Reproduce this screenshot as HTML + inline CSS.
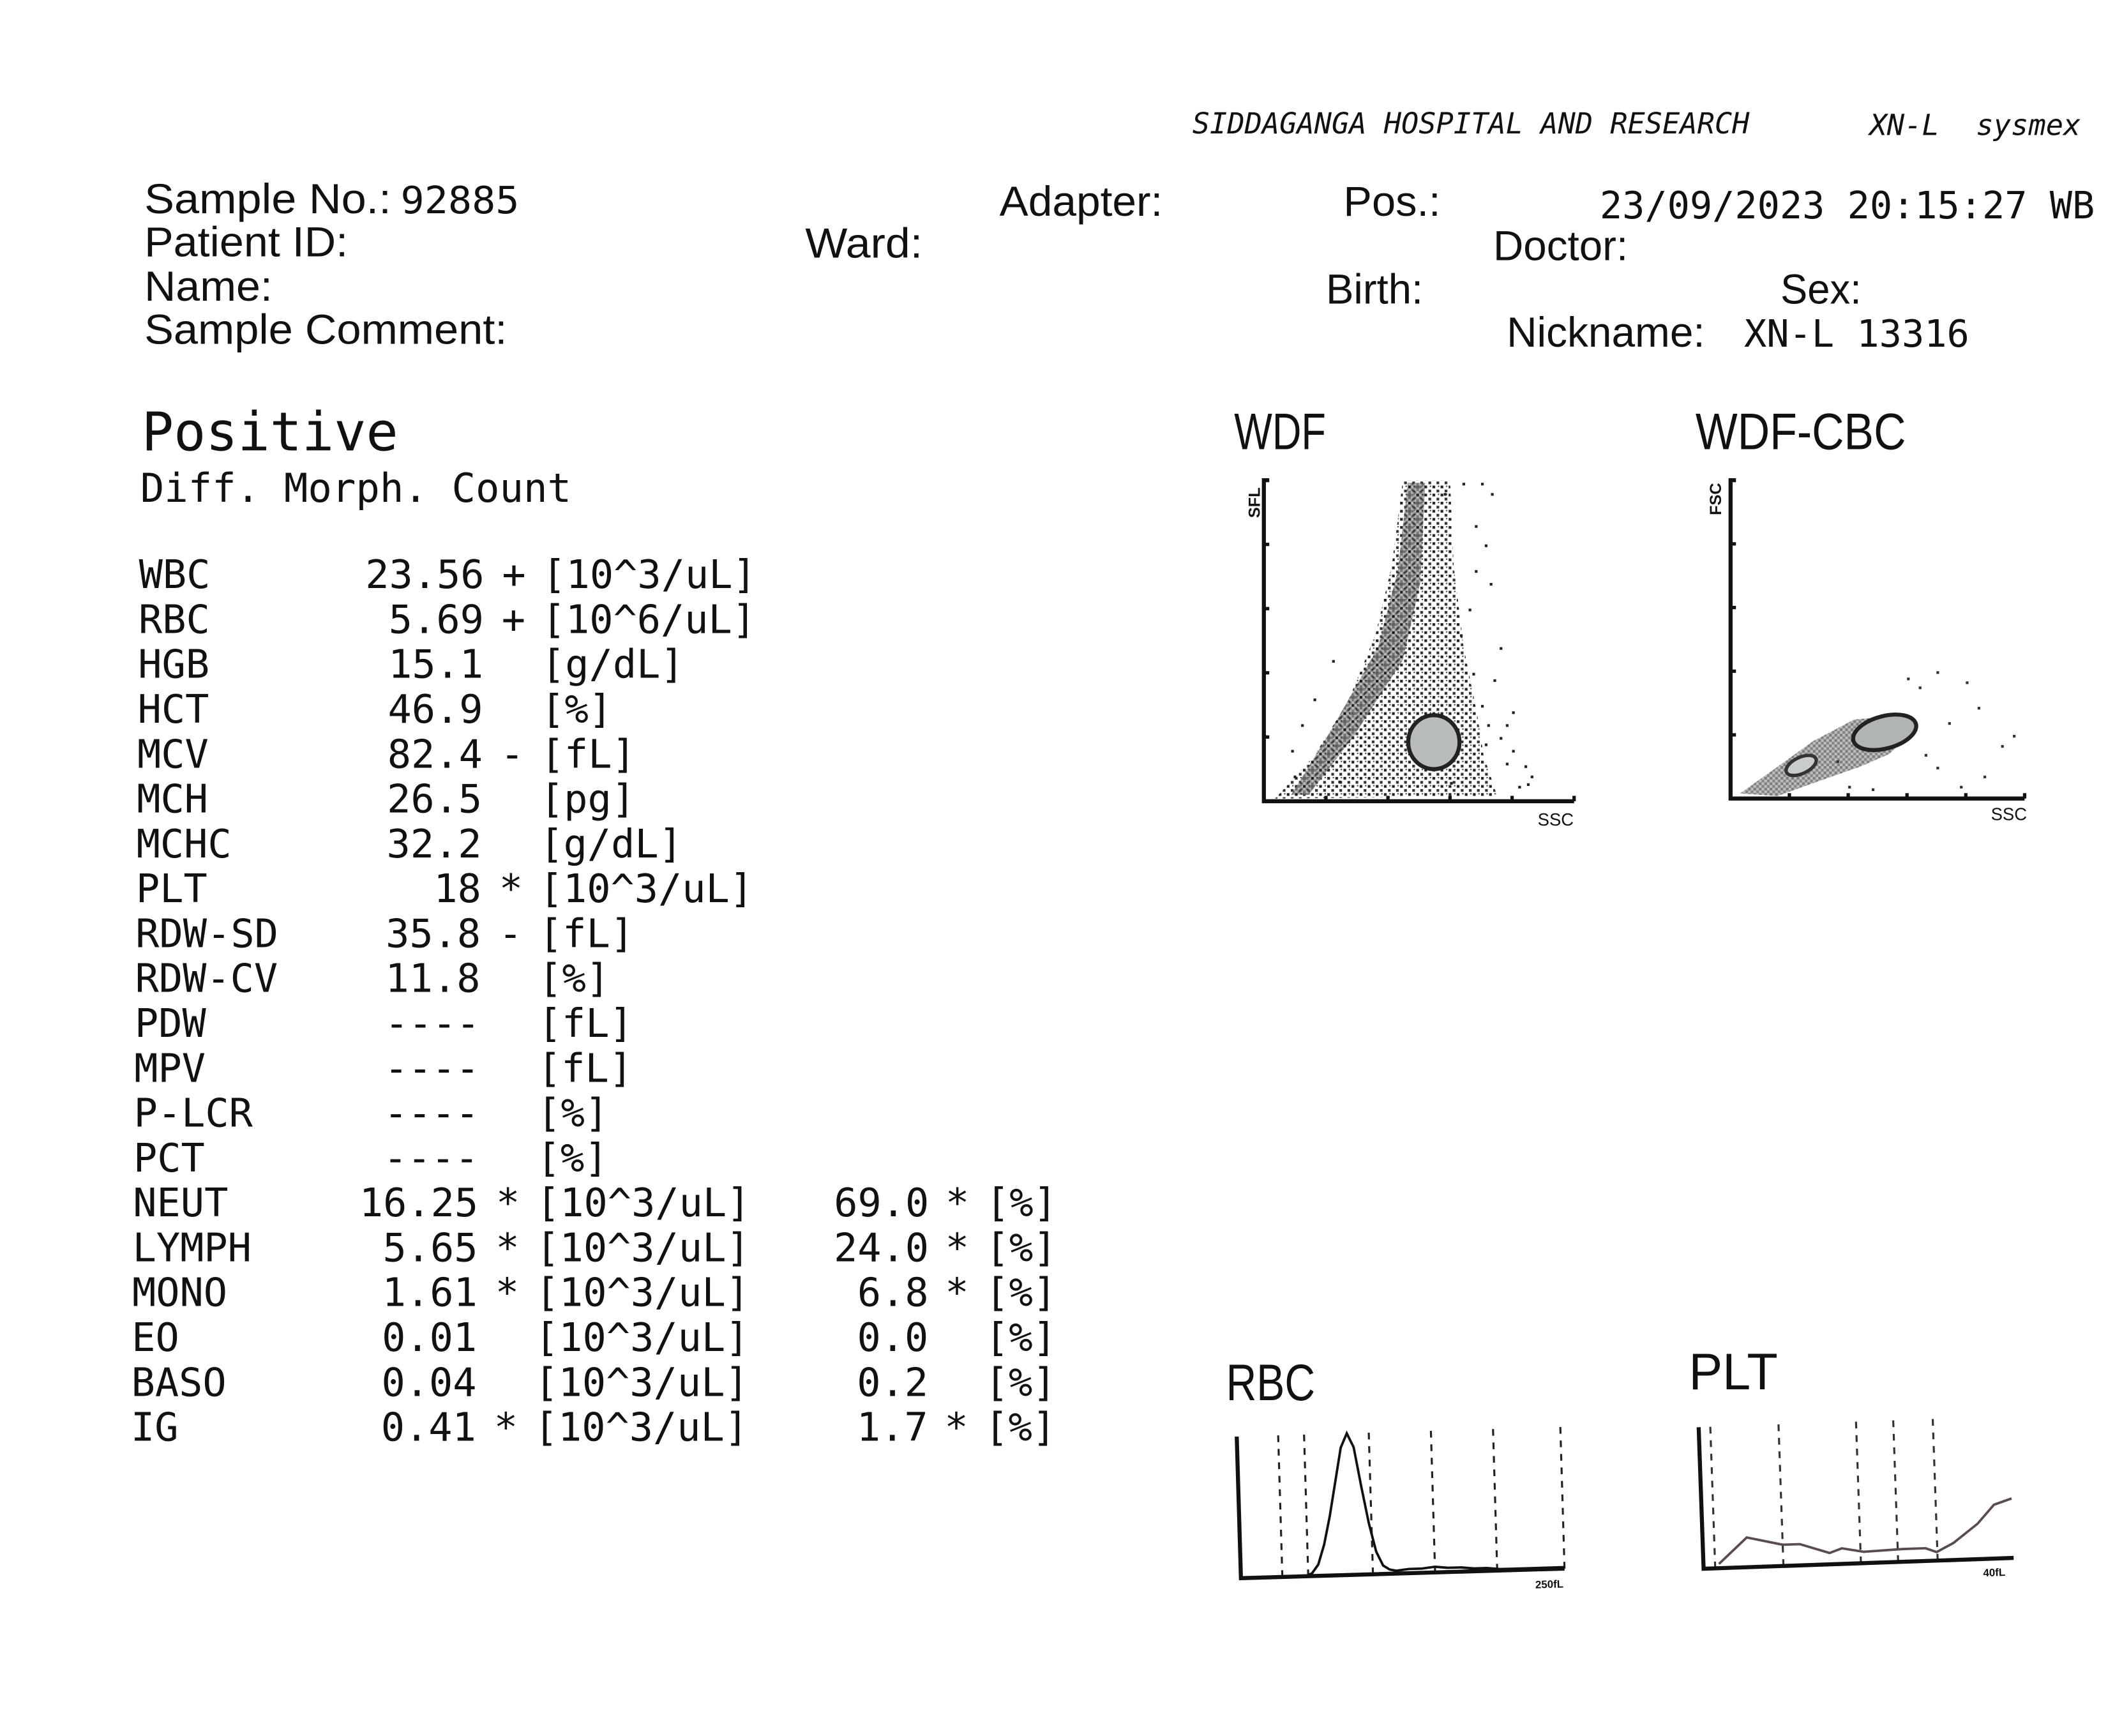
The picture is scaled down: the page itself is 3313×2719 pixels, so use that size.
<!DOCTYPE html>
<html><head><meta charset="utf-8"><style>
html,body{margin:0;padding:0;background:#fff;}
svg{display:block;}
.sans{font-family:"Liberation Sans",sans-serif;fill:#111;}
.mono{font-family:"DejaVu Sans Mono","Liberation Mono",monospace;fill:#111;}
</style></head><body>
<svg id="page" width="3313" height="2719" viewBox="0 0 1568 1287" preserveAspectRatio="none" xmlns="http://www.w3.org/2000/svg">
<defs>
<pattern id="speck" width="6" height="6" patternUnits="userSpaceOnUse">
<rect width="6" height="6" fill="#fff"/>
<rect x="0" y="0" width="2" height="2" fill="#222"/>
<rect x="3" y="3" width="2" height="2" fill="#333"/>
<rect x="4" y="0" width="1" height="1" fill="#444"/>
</pattern>
<pattern id="speckDense" width="4" height="4" patternUnits="userSpaceOnUse">
<rect width="4" height="4" fill="#888"/>
<rect x="0" y="0" width="2" height="2" fill="#111"/>
<rect x="2" y="2" width="2" height="2" fill="#222"/>
</pattern>
</defs>
<rect width="1568" height="1287" fill="#fff"/>

<g>
<text class="mono" font-style="italic" x="884" y="99" font-size="21.5" textLength="413" lengthAdjust="spacingAndGlyphs">SIDDAGANGA HOSPITAL AND RESEARCH</text>
<text class="mono" font-style="italic" x="1386" y="100" font-size="21.5">XN-L</text>
<text class="mono" font-style="italic" x="1465" y="100" font-size="21.5">sysmex</text>
</g>

<g>
<text class="sans" x="107" y="158" font-size="31" textLength="183" lengthAdjust="spacingAndGlyphs">Sample No.:</text>
<text class="mono" x="297" y="158" font-size="28" textLength="88" lengthAdjust="spacingAndGlyphs">92885</text>
<text class="sans" x="107" y="190" font-size="31" textLength="151" lengthAdjust="spacingAndGlyphs">Patient ID:</text>
<text class="sans" x="107" y="223" font-size="31" textLength="95" lengthAdjust="spacingAndGlyphs">Name:</text>
<text class="sans" x="107" y="255" font-size="31" textLength="269" lengthAdjust="spacingAndGlyphs">Sample Comment:</text>
<text class="sans" x="741" y="160" font-size="31" textLength="121" lengthAdjust="spacingAndGlyphs">Adapter:</text>
<text class="sans" x="996" y="160" font-size="31" textLength="72" lengthAdjust="spacingAndGlyphs">Pos.:</text>
<text class="mono" x="1186" y="162" font-size="27.8" textLength="367" lengthAdjust="spacingAndGlyphs">23/09/2023 20:15:27 WB</text>
<text class="sans" x="597" y="191" font-size="31" textLength="87" lengthAdjust="spacingAndGlyphs">Ward:</text>
<text class="sans" x="1107" y="193" font-size="31" textLength="100" lengthAdjust="spacingAndGlyphs">Doctor:</text>
<text class="sans" x="983" y="225" font-size="31" textLength="72" lengthAdjust="spacingAndGlyphs">Birth:</text>
<text class="sans" x="1320" y="225" font-size="31" textLength="60" lengthAdjust="spacingAndGlyphs">Sex:</text>
<text class="sans" x="1117" y="257" font-size="31" textLength="147" lengthAdjust="spacingAndGlyphs">Nickname:</text>
<text class="mono" x="1293" y="257" font-size="27.8" textLength="167" lengthAdjust="spacingAndGlyphs">XN-L 13316</text>
</g>

<text class="mono" x="105" y="334" font-size="39.5">Positive</text>
<text class="mono" x="104" y="372" font-size="29.5">Diff. Morph. Count</text>

<g id="results"></g>

<text class="sans" x="915" y="333" font-size="38" textLength="68" lengthAdjust="spacingAndGlyphs">WDF</text>
<text class="sans" x="1257" y="333" font-size="38" textLength="156" lengthAdjust="spacingAndGlyphs">WDF-CBC</text>
<text class="sans" x="909" y="1038" font-size="38" textLength="66" lengthAdjust="spacingAndGlyphs">RBC</text>
<text class="sans" x="1252" y="1030" font-size="38" textLength="66" lengthAdjust="spacingAndGlyphs">PLT</text>

<g id="wdf"></g>
<g id="cbc"></g>
<g id="rbc" transform="rotate(-1.7 920 1170)"></g>
<g id="plt" transform="rotate(-2 1263 1163)"></g>
</svg>
<script>
const NS="http://www.w3.org/2000/svg";
// ---- results table data ----
const testNames=["WBC","RBC","HGB","HCT","MCV","MCH","MCHC","PLT","RDW-SD","RDW-CV","PDW","MPV","P-LCR","PCT","NEUT","LYMPH","MONO","EO","BASO","IG"];
const testValues=["23.56","5.69","15.1","46.9","82.4","26.5","32.2","18","35.8","11.8","----","----","----","----","16.25","5.65","1.61","0.01","0.04","0.41"];
const testFlags=["+","+","","","-","","","*","-","","","","","","*","*","*","","","*"];
const testUnits=["[10^3/uL]","[10^6/uL]","[g/dL]","[%]","[fL]","[pg]","[g/dL]","[10^3/uL]","[fL]","[%]","[fL]","[fL]","[%]","[%]","[10^3/uL]","[10^3/uL]","[10^3/uL]","[10^3/uL]","[10^3/uL]","[10^3/uL]"];
const pctValues=["69.0","24.0","6.8","0.0","0.2","1.7"];
const pctFlags=["*","*","*","","","*"];

function txt(parent,x,y,s,anchor,size){
  const t=document.createElementNS(NS,"text");
  t.setAttribute("x",x);t.setAttribute("y",y);
  t.setAttribute("class","mono");t.setAttribute("font-size",size||29.3);
  if(anchor)t.setAttribute("text-anchor",anchor);
  t.textContent=s;parent.appendChild(t);return t;
}
const res=document.getElementById("results");
testNames.forEach((n,i)=>{
  const dx=-6*i/19, y=436+i*33.27;
  const row=document.createElementNS(NS,"g");
  
  
  res.appendChild(row);
  txt(row,103+dx,y,n);
  txt(row,359+dx,y,testValues[i],"end");
  if(testFlags[i])txt(row,381+dx,y,testFlags[i],"middle");
  txt(row,402+dx,y,testUnits[i]);
  if(i>=14){
    const k=i-14;
    txt(row,691+dx*0.5,y,pctValues[k],"end");
    if(pctFlags[k])txt(row,712+dx*0.5,y,pctFlags[k],"middle");
    txt(row,733+dx*0.5,y,"[%]");
  }
});

function el(parent,tag,attrs){const e=document.createElementNS(NS,tag);for(const k in attrs)e.setAttribute(k,attrs[k]);parent.appendChild(e);return e;}

// ---- WDF scattergram data (SSC, SFL in 0-250 channel units) ----
const wdfBandSSC=[112,150,153,161,172,177,188,9,41,68,90,103];
const wdfBandSFL=[250,250,183,120,67,36,4,2,36,78,130,183];
const wdfCoreSSC=[116,130,126,112,72,36,22,54,92,108];
const wdfCoreSFL=[248,248,170,110,50,5,5,55,120,180];
const wdfNeutSSC=[137], wdfNeutSFL=[46];
const wdfDotsSSC=[160,175,178,170,182,165,190,185,200,210,215,205,195,158,168,175,30,22,40,55,170,180,195,212,150,145,190,200,24,60,178,183];
const wdfDotsSFL=[248,248,200,215,170,150,120,95,40,28,20,12,60,130,100,75,60,40,80,110,180,60,30,14,15,240,50,70,20,16,45,240];

(function(){
  const g=document.getElementById("wdf");
  const x0=937,y0=594,w=230,h=238;
  const sx=v=>x0+v/250*w, sy=v=>y0-v/250*h;
  let p=el(g,"polygon",{points:wdfBandSSC.map((v,i)=>sx(v)+","+sy(wdfBandSFL[i])).join(" "),fill:"url(#speck)"});
  
  p=el(g,"polygon",{points:wdfCoreSSC.map((v,i)=>sx(v)+","+sy(wdfCoreSFL[i])).join(" "),fill:"url(#speckDense)",opacity:"0.6"});
  
  wdfNeutSSC.forEach((v,i)=>{
    const e=el(g,"ellipse",{cx:sx(v),cy:sy(wdfNeutSFL[i]),rx:19,ry:20,fill:"#b8bcbc",stroke:"#222","stroke-width":3});
    
  });
  wdfDotsSSC.forEach((v,i)=>{
    const d=el(g,"rect",{x:sx(v),y:sy(wdfDotsSFL[i]),width:2,height:2,fill:"#222"});
    
  });
  const ax=el(g,"path",{d:`M${x0+4},${y0-238} H${x0} V${y0} H${x0+w}`,fill:"none",stroke:"#111","stroke-width":3});
  
  for(let k=1;k<=4;k++){el(g,"line",{x1:x0,x2:x0+4,y1:sy(k*50),y2:sy(k*50),stroke:"#111","stroke-width":2.5});}
  for(let k=1;k<=5;k++){el(g,"line",{x1:sx(k*50),x2:sx(k*50),y1:y0,y2:y0-4,stroke:"#111","stroke-width":2.5});}
  const yl=el(g,"text",{x:0,y:0,transform:"translate(934,384) rotate(-90)",class:"sans","font-size":12,"font-weight":"bold"});yl.textContent="SFL";
  
  const xl=el(g,"text",{x:1140,y:612,class:"sans","font-size":13});xl.textContent="SSC";
  
})();

// ---- WDF-CBC scattergram data ----
const cbcBandSSC=[8,40,70,105,140,150,135,110,70,40];
const cbcBandFSC=[4,25,45,62,65,48,35,25,12,2];
const cbcMainSSC=[131], cbcMainFSC=[52];
const cbcSmallSSC=[60], cbcSmallFSC=[26];
const cbcDotsSSC=[175,200,210,185,165,230,215,240,195,160,150,175,120,100,90];
const cbcDotsFSC=[100,92,72,60,35,42,18,50,10,88,95,25,8,10,30];
(function(){
  const g=document.getElementById("cbc");
  const x0=1283,y0=592,w=218,h=236;
  const sx=v=>x0+v/250*w, sy=v=>y0-v/250*h;
  let p=el(g,"polygon",{points:cbcBandSSC.map((v,i)=>sx(v)+","+sy(cbcBandFSC[i])).join(" "),fill:"url(#speckDense)",opacity:"0.55"});
  
  cbcMainSSC.forEach((v,i)=>{
    const e=el(g,"ellipse",{cx:sx(v),cy:sy(cbcMainFSC[i]),rx:24,ry:12,transform:`rotate(-15 ${sx(v)} ${sy(cbcMainFSC[i])})`,fill:"#b0b4b4",stroke:"#222","stroke-width":3});
    
  });
  cbcSmallSSC.forEach((v,i)=>{
    const e=el(g,"ellipse",{cx:sx(v),cy:sy(cbcSmallFSC[i]),rx:12,ry:6,transform:`rotate(-25 ${sx(v)} ${sy(cbcSmallFSC[i])})`,fill:"#c8cccc",stroke:"#333","stroke-width":2.5});
    
  });
  cbcDotsSSC.forEach((v,i)=>{
    const d=el(g,"rect",{x:sx(v),y:sy(cbcDotsFSC[i]),width:2,height:2,fill:"#333"});
    
  });
  const ax=el(g,"path",{d:`M${x0+4},${y0-236} H${x0} V${y0} H${x0+w}`,fill:"none",stroke:"#111","stroke-width":3});
  
  for(let k=1;k<=4;k++){el(g,"line",{x1:x0,x2:x0+4,y1:sy(k*50),y2:sy(k*50),stroke:"#111","stroke-width":2.5});}
  for(let k=1;k<=5;k++){el(g,"line",{x1:sx(k*50),x2:sx(k*50),y1:y0,y2:y0-4,stroke:"#111","stroke-width":2.5});}
  const yl=el(g,"text",{x:0,y:0,transform:"translate(1276,382) rotate(-90)",class:"sans","font-size":12,"font-weight":"bold"});yl.textContent="FSC";
  
  const xl=el(g,"text",{x:1476,y:608,class:"sans","font-size":13});xl.textContent="SSC";
  
})();

// ---- RBC histogram data (fL, relative count 0-100) ----
const rbcFL=[0,10,20,30,40,45,50,55,60,65,70,75,80,85,90,95,100,105,110,115,120,130,140,150,160,170,180,190,200,210,220,230,240,250];
const rbcCount=[0,0,0,0,0,0,0,2,8,22,42,66,90,100,90,62,36,16,6,3,2,3,3,4,3,3,2,2,1,1,1,1,1,1];
const rbcDiscrim=[32,52,102,150,198,250];
(function(){
  const g=document.getElementById("rbc");
  const x0=920,y0=1170,w=240,h=105;
  const sx=v=>x0+v/250*w, sy=v=>y0-v/100*h;
  rbcDiscrim.forEach(v=>{
    const l=el(g,"line",{x1:sx(v),x2:sx(v),y1:y0,y2:y0-h,stroke:"#222","stroke-width":1.5,"stroke-dasharray":"5 5"});
    
  });
  const c=el(g,"polyline",{points:rbcFL.map((v,i)=>sx(v)+","+sy(rbcCount[i])).join(" "),fill:"none",stroke:"#111","stroke-width":1.8});
  
  const ax=el(g,"path",{d:`M${x0},${y0-h} V${y0} H${x0+w}`,fill:"none",stroke:"#111","stroke-width":3});
  
  const xl=el(g,"text",{x:1138,y:1184,class:"sans","font-size":8,"font-weight":"bold"});xl.textContent="250fL";
  
})();

// ---- PLT histogram data (fL, count) ----
const pltFL=[2,5.7,10.3,12.5,16.3,17.9,20.7,25.7,28.7,30.1,32.3,35.5,37.7,40];
const pltCount=[3,21,15,15,8,11,8,9,9,6,12,25,38,42];
const pltDiscrim=[1.5,10.3,20.3,25.1,30.2];
(function(){
  const g=document.getElementById("plt");
  const x0=1263,y0=1163,w=230,h=105;
  const sx=v=>x0+v/40*w, sy=v=>y0-v/100*h;
  pltDiscrim.forEach(v=>{
    const l=el(g,"line",{x1:sx(v),x2:sx(v),y1:y0,y2:y0-h-2,stroke:"#333","stroke-width":1.5,"stroke-dasharray":"5 5"});
    
  });
  const c=el(g,"polyline",{points:pltFL.map((v,i)=>sx(v)+","+sy(pltCount[i])).join(" "),fill:"none",stroke:"#5a4c4c","stroke-width":1.8});
  
  const ax=el(g,"path",{d:`M${x0},${y0-h} V${y0} H${x0+w}`,fill:"none",stroke:"#111","stroke-width":3});
  
  const xl=el(g,"text",{x:1470,y:1176,class:"sans","font-size":8,"font-weight":"bold"});xl.textContent="40fL";
  
})();
</script>
</body></html>
